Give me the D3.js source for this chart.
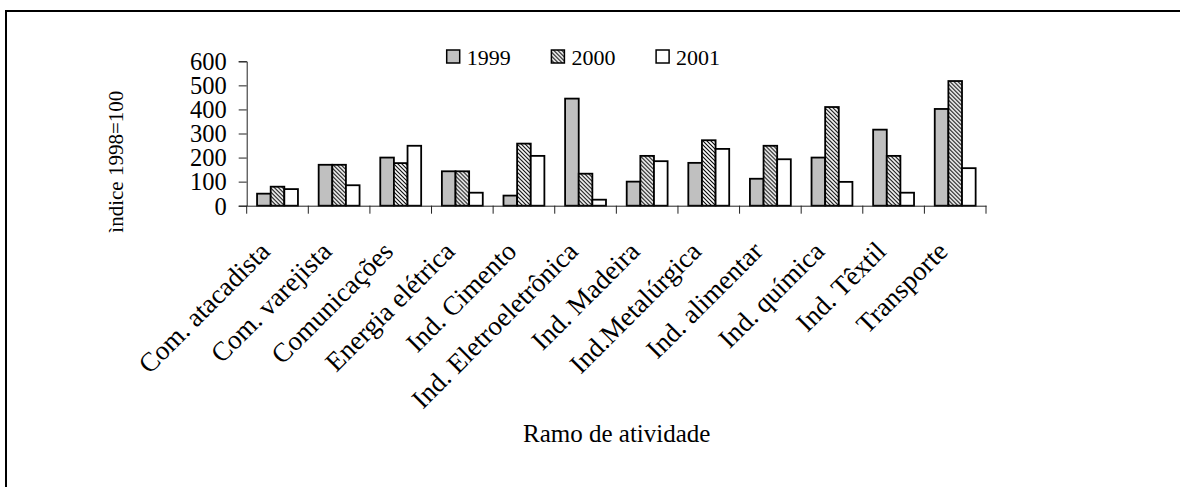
<!DOCTYPE html>
<html>
<head>
<meta charset="utf-8">
<script src="https://cdn.jsdelivr.net/npm/d3@7"></script>
<style>
  body { margin: 0; background: #fff; }
  text { font-family: "Liberation Serif", "Times New Roman", Times, serif; }
</style>
</head>
<body>
<div id="chart"></div>
<script>
var categories = ['Com. atacadista', 'Com. varejista', 'Comunicações', 'Energia elétrica',
  'Ind. Cimento', 'Ind. Eletroeletrônica', 'Ind. Madeira', 'Ind.Metalúrgica',
  'Ind. alimentar', 'Ind. química', 'Ind. Têxtil', 'Transporte'];
var series = ['1999', '2000', '2001'];
var v1999 = [50, 170, 200, 143, 42, 445, 100, 178, 112, 200, 316, 402];
var v2000 = [79, 170, 177, 143, 258, 133, 207, 272, 249, 410, 207, 518];
var v2001 = [69, 85, 249, 54, 207, 25, 185, 236, 193, 99, 54, 156];
var yTicks = [0, 100, 200, 300, 400, 500, 600];

var W = 1180, H = 487,
  serif = 'Liberation Serif';

var svg = d3.select('#chart').append('svg')
  .attr('width', W)
  .attr('height', H)
  .attr('font-family', serif);

var defs = svg.append('defs');
var pat = defs.append('pattern')
  .attr('id', 'hatch')
  .attr('patternUnits', 'userSpaceOnUse')
  .attr('width', 4)
  .attr('height', 4);
pat.append('rect').attr('width', 4).attr('height', 4).attr('fill', '#fff');
pat.append('path')
  .attr('d', 'M-1,-1 L5,5 M-1,3 L1,5 M3,-1 L5,1')
  .attr('stroke', '#000')
  .attr('stroke-width', 1.1);

// outer frame (runs off the right and bottom)
svg.append('rect')
  .attr('x', 6).attr('y', 11)
  .attr('width', 1300).attr('height', 600)
  .attr('fill', 'none')
  .attr('stroke', '#000')
  .attr('stroke-width', 2);

var x0 = d3.scaleBand().domain(categories).range([246.7, 986]);
var x1 = d3.scaleBand().domain(series).range([0, x0.bandwidth()]).paddingOuter(0.76);
var y = d3.scaleLinear().domain([0, 600]).range([205.7, 61.3]);

var fills = {'1999': '#c0c0c0', '2000': 'url(#hatch)', '2001': '#fff'};
var rows = categories.map(function(c, i){
  return {cat: c, vals: [v1999[i], v2000[i], v2001[i]]};
});

// y axis
var yAxis = svg.append('g')
  .attr('transform', 'translate(246.7,0)')
  .call(d3.axisLeft(y).tickValues(yTicks).tickSize(8).tickPadding(12).tickFormat(d3.format('d')))
  .attr('font-family', serif)
  .attr('font-size', 24.5);
yAxis.select('.domain').attr('stroke', '#222');
yAxis.selectAll('.tick line').attr('stroke', '#222');
yAxis.selectAll('.tick text')
  .attr('dy', '0.34em');

// bars
var groups = svg.append('g').selectAll('g')
  .data(rows)
  .enter().append('g')
    .attr('transform', function(d){ return 'translate(' + x0(d.cat) + ',0)'; });

groups.selectAll('rect')
  .data(function(d){ return d.vals.map(function(v, j){ return {s: series[j], v: v}; }); })
  .enter().append('rect')
    .attr('x', function(d){ return x1(d.s); })
    .attr('y', function(d){ return y(d.v); })
    .attr('width', x1.bandwidth())
    .attr('height', function(d){ return y(0) - y(d.v); })
    .attr('fill', function(d){ return fills[d.s]; })
    .attr('stroke', '#000')
    .attr('stroke-width', 1.8);

// x axis
var xAxis = svg.append('g')
  .attr('transform', 'translate(0,205.7)')
  .call(d3.axisBottom(x0).tickSize(0).tickFormat(''));
xAxis.select('.domain').attr('stroke', '#222');
xAxis.selectAll('.tick').remove();
xAxis.selectAll('.sep')
  .data(categories.concat(['end']))
  .enter().append('line')
    .attr('class', 'sep')
    .attr('x1', function(d, i){ return x0.range()[0] + i * x0.step(); })
    .attr('x2', function(d, i){ return x0.range()[0] + i * x0.step(); })
    .attr('y1', 0).attr('y2', 8)
    .attr('stroke', '#222');

svg.append('g').selectAll('text')
  .data(categories)
  .enter().append('text')
    .attr('text-anchor', 'end')
    .attr('transform', function(d){
      return 'translate(' + (x0(d) + x0.bandwidth() / 2 - 6) + ',253) rotate(-45)';
    })
    .attr('font-family', serif)
    .attr('font-size', 27)
    .text(function(d){ return d; });

// axis titles
svg.append('text')
  .attr('text-anchor', 'middle')
  .attr('transform', 'translate(123,161.7) rotate(-90)')
  .attr('font-family', serif)
  .attr('font-size', 21)
  .text('ìndice 1998=100');

svg.append('text')
  .attr('x', 616.7).attr('y', 441.7)
  .attr('text-anchor', 'middle')
  .attr('font-family', serif)
  .attr('font-size', 25)
  .text('Ramo de atividade');

// legend
var legend = svg.append('g').selectAll('g')
  .data(series)
  .enter().append('g')
    .attr('transform', function(d, i){ return 'translate(' + (446.7 + i * 104.7) + ',0)'; });
legend.append('rect')
  .attr('x', 0).attr('y', 50)
  .attr('width', 13).attr('height', 13)
  .attr('fill', function(d){ return fills[d]; })
  .attr('stroke', '#000')
  .attr('stroke-width', 1.5);
legend.append('text')
  .attr('x', 20).attr('y', 65)
  .attr('font-family', serif)
  .attr('font-size', 22)
  .text(function(d){ return d; });
</script>
</body>
</html>
